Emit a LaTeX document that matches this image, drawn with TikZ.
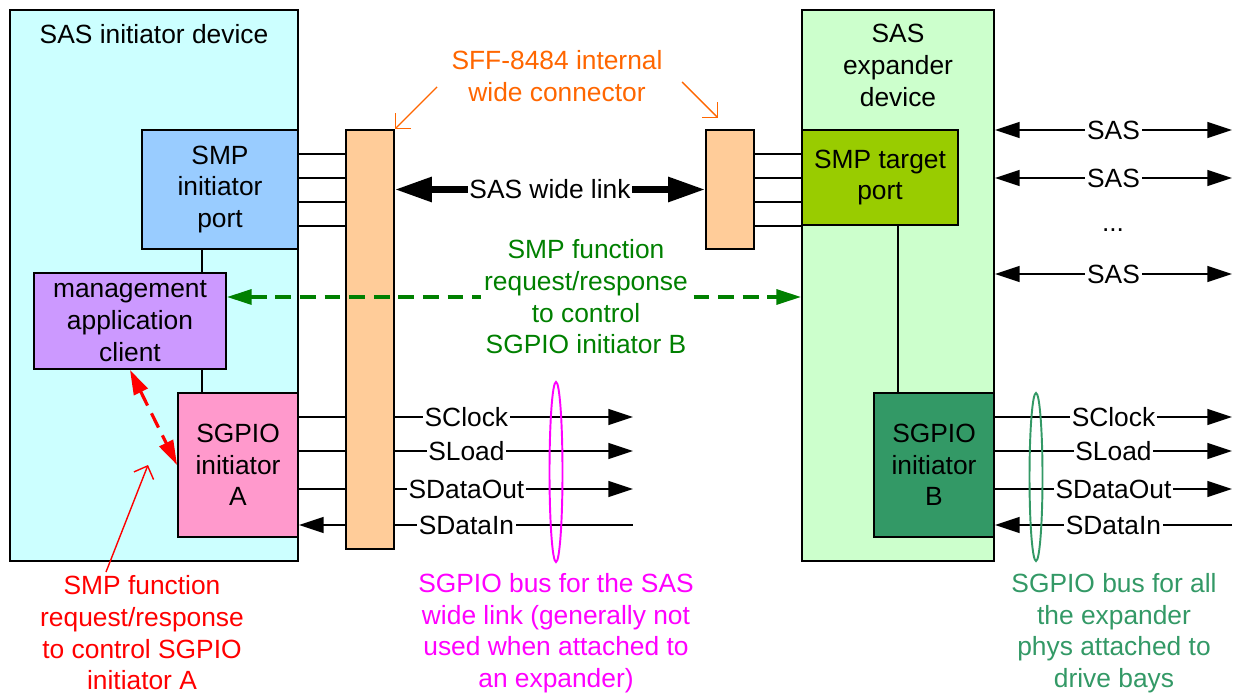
\documentclass[tikz,border=0pt]{standalone}
\usepackage{fontspec}
\setmainfont{Liberation Sans}
\usetikzlibrary{arrows.meta,positioning}
\newlength{\pxl}
\setlength{\pxl}{0.02cm}
\definecolor{initfill}{HTML}{CCFFFF}
\definecolor{expfill}{HTML}{CCFFCC}
\definecolor{smpifill}{HTML}{99CCFF}
\definecolor{mgmtfill}{HTML}{CC99FF}
\definecolor{sgafill}{HTML}{FF99CC}
\definecolor{sgbfill}{HTML}{339966}
\definecolor{smptfill}{HTML}{99CC00}
\definecolor{connfill}{HTML}{FFCC99}
\definecolor{sffor}{HTML}{FF6600}
\definecolor{smpgreen}{HTML}{008000}
\definecolor{bustxt}{HTML}{339966}
\definecolor{busmag}{HTML}{FF00FF}

\begin{document}
\begin{tikzpicture}[x=0.02cm,y=-0.02cm,
  font=\fontsize{15pt}{18pt}\selectfont,
  box/.style={draw,line width=1.1pt,inner sep=0pt,align=center},
  devlabel/.style={anchor=north,inner sep=0pt,yshift=-15\pxl,align=center},
  wire/.style={line width=1.1pt},
  sig/.style={fill=white,inner xsep=1pt,inner ysep=0pt},
  tipr/.style={-{Triangle[length=14pt,width=9pt]}},
  tipb/.style={{Triangle[length=14pt,width=9pt]}-{Triangle[length=14pt,width=9pt]}},
  smpdash/.style={smpgreen,line width=1.8pt,dash pattern=on 9pt off 5pt,
    {Triangle[length=14pt,width=8.5pt]}-{Triangle[length=14pt,width=8.5pt]}},
  mgmtdash/.style={red,line width=1.8pt,dash pattern=on 9pt off 5pt,
    {Triangle[length=14pt,width=8.5pt]}-{Triangle[length=14pt,width=8.5pt]}},
  barb/.style={line width=0.8pt,-{Straight Barb[length=6pt,width=12pt]}}]
  \useasboundingbox (0,0) rectangle (1233,695);

  % devices
  \node[box,fill=initfill,minimum width=288\pxl,minimum height=551\pxl,
    label={[devlabel]north:SAS initiator device}] (initdev) at (154,285.5) {};
  \node[box,fill=expfill,minimum width=192\pxl,minimum height=551\pxl,
    label={[devlabel]north:SAS\\expander\\device}] (expdev) at (898,285.5) {};

  % blocks
  \node[box,fill=smpifill,minimum width=156\pxl,minimum height=119\pxl] (smpinit) at (220,189.5) {SMP\\initiator\\port};
  \node[box,fill=mgmtfill,minimum width=192\pxl,minimum height=96\pxl] (mgmt) at (130,321) {management\\application\\client};
  \node[box,fill=sgafill,minimum width=120\pxl,minimum height=144\pxl] (sgpioa) at (238,465) {SGPIO\\initiator\\A};
  \node[box,fill=connfill,minimum width=48\pxl,minimum height=419\pxl] (connl) at (370,339.5) {};
  \node[box,fill=connfill,minimum width=48\pxl,minimum height=119\pxl] (connr) at (730,189.5) {};
  \node[box,fill=smptfill,minimum width=156\pxl,minimum height=95\pxl] (smptgt) at (880,177.5) {SMP target\\port};
  \node[box,fill=sgbfill,minimum width=120\pxl,minimum height=144\pxl] (sgpiob) at (934,465) {SGPIO\\initiator\\B};

  \draw[wire] (smpinit.south -| 202,0) -- (mgmt.north -| 202,0);
  \draw[wire] (mgmt.south -| 202,0) -- (sgpioa.north -| 202,0);
  \draw[wire] (expdev.center |- smptgt.south) -- (expdev.center |- sgpiob.north);

  % wide link lanes
  \foreach \y in {154,178,202,226} {
    \draw[wire] (smpinit.east |- 0,\y) -- (connl.west |- 0,\y);
    \draw[wire] (connr.east |- 0,\y) -- (smptgt.west |- 0,\y);
  }
  \draw[line width=3.8pt,{Triangle[length=21pt,width=13.5pt]}-{Triangle[length=21pt,width=13.5pt]}]
    (connl.east |- connr.west) -- node[sig] {SAS wide link} (connr.west);

  % sgpio bus, initiator side
  \foreach \y/\sname in {417/SClock,451/SLoad,489/SDataOut} {
    \coordinate (bl\y) at (633,\y);
    \draw[wire] (sgpioa.east |- 0,\y) -- (connl.west |- 0,\y);
    \draw[wire,tipr] (connl.east |- bl\y) -- node[sig,pos=.3] {\sname} (bl\y);
  }
  \coordinate (bl525) at (633,525);
  \draw[wire,tipr] (connl.west |- bl525) -- (sgpioa.east |- bl525);
  \draw[wire] (connl.east |- bl525) -- node[sig,pos=.3] {SDataIn} (bl525);

  % sgpio bus, expander side
  \foreach \y/\sname in {417/SClock,451/SLoad,489/SDataOut} {
    \coordinate (br\y) at (1232,\y);
    \draw[wire,tipr] (sgpiob.east |- br\y) -- node[sig] {\sname} (br\y);
  }
  \coordinate (br525) at (1232,525);
  \draw[wire,tipr] (br525) -- node[sig] {SDataIn} (sgpiob.east |- br525);

  % SAS phys
  \foreach \y in {130,178,274} {
    \coordinate (sas\y) at (1232,\y);
    \draw[wire,tipb] (expdev.east |- sas\y) -- node[sig] {SAS} (sas\y);
  }
  \node (dots) at (1113,230) {...};

  % bus ellipses
  \draw[busmag,line width=1.1pt] (556,472) ellipse [x radius=6.5,y radius=90];
  \draw[bustxt,line width=1.1pt] (1036,477) ellipse [x radius=6.5,y radius=84];
  \node[align=center,text=busmag] (busltxt) at (556,633)
    {SGPIO bus for the SAS\\wide link (generally not\\used when attached to\\an expander)};
  \node[align=center,text=bustxt] (busrtxt) at (1114,633)
    {SGPIO bus for all\\the expander\\phys attached to\\drive bays};

  % SMP control paths
  \draw[smpdash] (mgmt.east |- 0,297) -- (expdev.west |- 0,297);
  \node[fill=white,align=center,text=smpgreen,inner xsep=2pt,inner ysep=0pt] (grntxt) at (586,297)
    {SMP function\\request/response\\to control\\SGPIO initiator B};
  \draw[mgmtdash] (mgmt.south) -- (sgpioa.west);
  \node[align=center,text=red,inner sep=0pt] (redtxt) at (142,633)
    {SMP function\\request/response\\to control SGPIO\\initiator A};
  \coordinate (redfoot) at (106,572);
  \coordinate (redtip) at (148,465);
  \draw[red,barb] (redfoot) -- (redtip);

  % connector callout
  \node[align=center,text=sffor] (sfftxt) at (557,76) {SFF-8484 internal\\wide connector};
  \coordinate (sffl) at (437,87);
  \coordinate (sffr) at (682,82);
  \coordinate (sfftip) at (718,118);
  \draw[sffor,barb] (sffl) -- (connl.north east);
  \draw[sffor,barb] (sffr) -- (sfftip);
\end{tikzpicture}
\end{document}
